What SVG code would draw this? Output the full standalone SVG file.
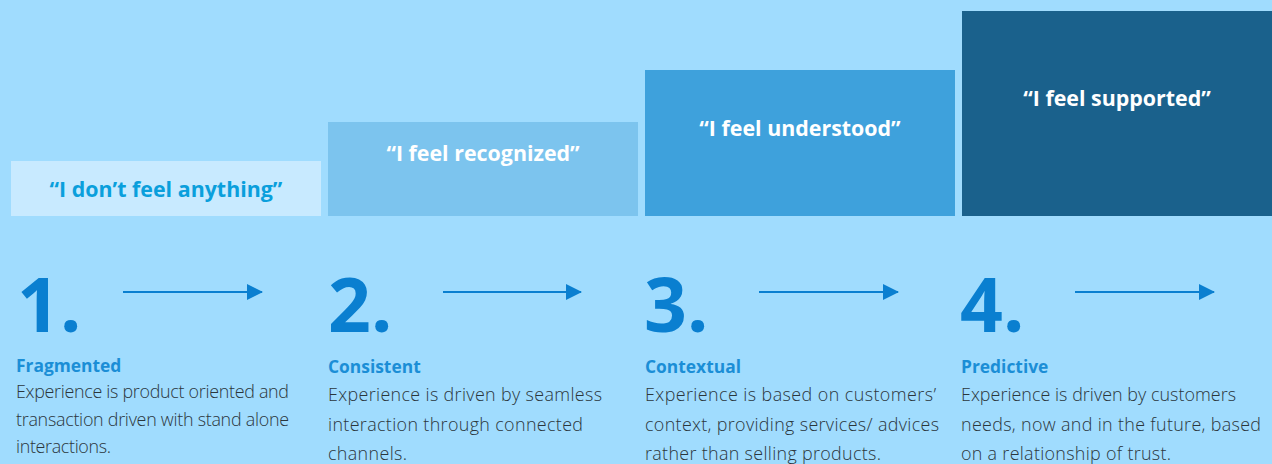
<svg xmlns="http://www.w3.org/2000/svg" width="1272" height="464" viewBox="0 0 1272 464">
  <defs>
    <marker id="arrowhead" markerWidth="16" markerHeight="16" refX="15" refY="8" orient="auto" markerUnits="userSpaceOnUse">
      <path d="M0,0 L16,8 L0,16 Z" fill="#0a7fd0"/>
    </marker>
  </defs>
  <style>
    .label { font-family: "Open Sans", "Noto Sans", sans-serif; font-weight: 700; font-size: 21.4px; text-anchor: middle; }
    .num { font-family: "Open Sans", "Noto Sans", sans-serif; font-weight: 700; font-size: 75px; fill: #0a7fd0; }
    .head { font-family: "Open Sans", "Noto Sans", sans-serif; font-weight: 700; font-size: 17.4px; fill: #1b8ed6; }
    .body { font-family: "Open Sans", "Noto Sans", sans-serif; font-weight: 300; font-size: 17.9px; fill: #2b363c; }
    .conn { stroke: #0a7fd0; stroke-width: 2; fill: none; marker-end: url(#arrowhead); }
  </style>
  <rect width="1272" height="464" fill="#a0dcfe"/>

  <!-- stage bars with their numbered descriptions -->
  <g id="stage1">
    <rect x="11" y="161" width="310" height="55" fill="#c8eaff"/>
    <text class="label" x="166" y="197" fill="#0a9fdc">“I don’t feel anything”</text>
    <text class="num" x="17" y="332">1.</text>
    <text class="head" x="16" y="372" font-size="16.6">Fragmented</text>
    <text class="body" x="16" y="398" font-size="17" textLength="273" lengthAdjust="spacing">Experience is product oriented and</text>
    <text class="body" x="16" y="425.5" font-size="17" textLength="273" lengthAdjust="spacing">transaction driven with stand alone</text>
    <text class="body" x="16" y="453" font-size="17" textLength="95" lengthAdjust="spacing">interactions.</text>
  </g>

  <g id="stage2">
    <rect x="328" y="122" width="310" height="94" fill="#7cc4ee"/>
    <text class="label" x="483" y="161" fill="#ffffff">“I feel recognized”</text>
    <text class="num" x="328" y="332">2.</text>
    <text class="head" x="328" y="373">Consistent</text>
    <text class="body" x="328" y="401" textLength="274" lengthAdjust="spacing">Experience is driven by seamless</text>
    <text class="body" x="328" y="430.5" textLength="255" lengthAdjust="spacing">interaction through connected</text>
    <text class="body" x="328" y="460" textLength="79" lengthAdjust="spacing">channels.</text>
  </g>

  <g id="stage3">
    <rect x="645" y="70" width="310" height="146" fill="#3ea1dc"/>
    <text class="label" x="800" y="136" fill="#ffffff">“I feel understood”</text>
    <text class="num" x="644" y="332">3.</text>
    <text class="head" x="645" y="373">Contextual</text>
    <text class="body" x="645" y="401" textLength="291" lengthAdjust="spacing">Experience is based on customers’</text>
    <text class="body" x="645" y="430.5" textLength="294" lengthAdjust="spacing">context, providing services/ advices</text>
    <text class="body" x="645" y="460" textLength="236" lengthAdjust="spacing">rather than selling products.</text>
  </g>

  <g id="stage4">
    <rect x="962" y="11" width="310" height="205" fill="#1a618c"/>
    <text class="label" x="1117" y="106" fill="#ffffff">“I feel supported”</text>
    <text class="num" x="960" y="332">4.</text>
    <text class="head" x="961" y="373">Predictive</text>
    <text class="body" x="961" y="401" textLength="275" lengthAdjust="spacing">Experience is driven by customers</text>
    <text class="body" x="961" y="430.5" textLength="300" lengthAdjust="spacing">needs, now and in the future, based</text>
    <text class="body" x="961" y="460" textLength="210" lengthAdjust="spacing">on a relationship of trust.</text>
  </g>

  <g id="connectors">
    <line class="conn" x1="123" y1="292" x2="262" y2="292"/>
    <line class="conn" x1="443" y1="292" x2="581" y2="292"/>
    <line class="conn" x1="759" y1="292" x2="898" y2="292"/>
    <line class="conn" x1="1075" y1="292" x2="1214" y2="292"/>
  </g>
</svg>
